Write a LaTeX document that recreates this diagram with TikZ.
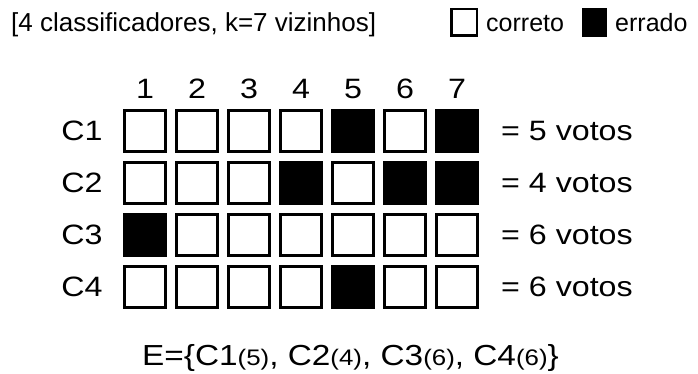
\documentclass[tikz,border=0pt]{standalone}
\usepackage{fontspec}
\setmainfont{Liberation Sans}
\newfontfamily\gridfont[FakeStretch=1.15]{Liberation Sans}
\usetikzlibrary{positioning}

\newcommand\nvotos[1]{{\fontsize{22.5}{24}\selectfont(#1)}}

\begin{document}
\begin{tikzpicture}[x=1pt, y=-1pt,
    cell/.style={draw, line width=2.8pt, minimum width=41pt, minimum height=41pt, inner sep=0pt},
    cell-o/.style={cell, fill=white},
    cell-x/.style={cell, fill=black},
    lbl/.style={inner sep=0pt, font=\gridfont\fontsize{28}{30}\selectfont},
    txt/.style={inner sep=0pt, anchor=base west, font=\fontsize{26}{28}\selectfont}]
  \useasboundingbox (0,0) rectangle (698,374);
  % title and legend
  \node[txt] (title) at (11,32) {[4 classificadores, k=7 vizinhos]};
  \node[cell-o, line width=2.5pt, minimum width=25.5pt, minimum height=26.5pt] (legok) at (464,22.5) {};
  \node[txt, font=\fontsize{25}{27}\selectfont] (legoktxt) at (486,32) {correto};
  \node[cell-x, line width=2.5pt, minimum width=22.5pt, minimum height=26.5pt] (legbad) at (594.5,22.5) {};
  \node[txt, font=\fontsize{25}{27}\selectfont] (legbadtxt) at (615,32) {errado};
  % neighbour numbers
  \foreach \k in {1,...,7}
    \node[lbl] (n\k) at (93+52*\k,89) {\k};
  % one row per classifier
  \foreach \r/\pat/\v in {1/{o,o,o,o,x,o,x}/5, 2/{o,o,o,x,o,x,x}/4,
                          3/{x,o,o,o,o,o,o}/6, 4/{o,o,o,o,x,o,o}/6} {
    \node[lbl] (c\r) at (82,79+52*\r) {C\r};
    \foreach \b [count=\k] in \pat
      \node[cell-\b] (b\r-\k) at (93+52*\k,79+52*\r) {};
    \node[lbl, anchor=west] (v\r) at (501,79+52*\r) {= \v\ votos};
  }
  \node[inner sep=0pt, anchor=base west, font=\gridfont\fontsize{29}{31}\selectfont] (ens) at (142,365)
    {E=\{C1\nvotos{5}, C2\nvotos{4}, C3\nvotos{6}, C4\nvotos{6}\}};
\end{tikzpicture}
\end{document}
